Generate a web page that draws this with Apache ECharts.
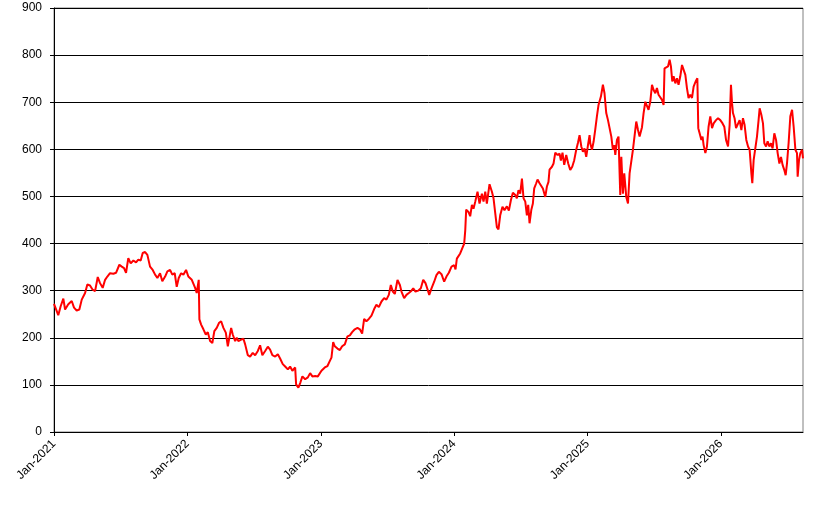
<!DOCTYPE html>
<html>
<head>
<meta charset="utf-8">
<script src="https://cdn.jsdelivr.net/npm/echarts@6/dist/echarts.min.js"></script>
<style>
  html, body { margin: 0; padding: 0; background: #fff; }
  #chart { width: 827px; height: 511px; }
</style>
</head>
<body>
<div id="chart"></div>
<script>
// time as decimal years (2021.5 = mid 2021)
const years = [
  2021.000, 2021.008, 2021.032, 2021.050, 2021.070, 2021.083, 2021.107, 2021.133, 2021.150, 2021.170,
  2021.190, 2021.208, 2021.233, 2021.250, 2021.270, 2021.290, 2021.308, 2021.328, 2021.345, 2021.365,
  2021.383, 2021.400, 2021.420, 2021.445, 2021.465, 2021.490, 2021.508, 2021.525, 2021.540, 2021.557,
  2021.575, 2021.595, 2021.615, 2021.632, 2021.650, 2021.665, 2021.683, 2021.700, 2021.720, 2021.740,
  2021.758, 2021.775, 2021.795, 2021.812, 2021.833, 2021.850, 2021.870, 2021.887, 2021.905, 2021.920,
  2021.935, 2021.953, 2021.970, 2021.990, 2022.007, 2022.033, 2022.058, 2022.070, 2022.085, 2022.090,
  2022.103, 2022.120, 2022.138, 2022.153, 2022.170, 2022.187, 2022.202, 2022.220, 2022.238, 2022.253,
  2022.270, 2022.288, 2022.303, 2022.315, 2022.328, 2022.340, 2022.358, 2022.370, 2022.382, 2022.403,
  2022.420, 2022.433, 2022.453, 2022.470, 2022.490, 2022.508, 2022.528, 2022.545, 2022.562, 2022.583,
  2022.603, 2022.620, 2022.637, 2022.658, 2022.678, 2022.695, 2022.715, 2022.733, 2022.753, 2022.770,
  2022.787, 2022.808, 2022.815, 2022.832, 2022.847, 2022.862, 2022.883, 2022.903, 2022.920, 2022.937,
  2022.958, 2022.978, 2023.005, 2023.030, 2023.050, 2023.068, 2023.080, 2023.093, 2023.105, 2023.125,
  2023.143, 2023.160, 2023.180, 2023.200, 2023.218, 2023.235, 2023.255, 2023.275, 2023.293, 2023.310,
  2023.325, 2023.342, 2023.360, 2023.380, 2023.400, 2023.417, 2023.435, 2023.455, 2023.475, 2023.492,
  2023.510, 2023.525, 2023.540, 2023.555, 2023.575, 2023.593, 2023.605, 2023.625, 2023.642, 2023.660,
  2023.680, 2023.693, 2023.710, 2023.730, 2023.750, 2023.768, 2023.785, 2023.800, 2023.813, 2023.830,
  2023.850, 2023.867, 2023.885, 2023.905, 2023.925, 2023.942, 2023.960, 2023.980, 2024.000, 2024.010,
  2024.020, 2024.045, 2024.065, 2024.075, 2024.083, 2024.090, 2024.107, 2024.120, 2024.133, 2024.145,
  2024.158, 2024.175, 2024.190, 2024.208, 2024.220, 2024.233, 2024.245, 2024.265, 2024.283, 2024.295,
  2024.308, 2024.320, 2024.332, 2024.345, 2024.362, 2024.377, 2024.395, 2024.410, 2024.425, 2024.440,
  2024.458, 2024.470, 2024.482, 2024.495, 2024.508, 2024.520, 2024.533, 2024.545, 2024.555, 2024.565,
  2024.578, 2024.590, 2024.600, 2024.615, 2024.625, 2024.640, 2024.650, 2024.665, 2024.683, 2024.695,
  2024.707, 2024.715, 2024.733, 2024.745, 2024.758, 2024.775, 2024.790, 2024.800, 2024.812, 2024.825,
  2024.840, 2024.855, 2024.870, 2024.885, 2024.900, 2024.915, 2024.928, 2024.940, 2024.953, 2024.965,
  2024.977, 2024.990, 2025.003, 2025.015, 2025.020, 2025.033, 2025.045, 2025.058, 2025.070, 2025.082,
  2025.100, 2025.115, 2025.127, 2025.140, 2025.153, 2025.165, 2025.178, 2025.190, 2025.200, 2025.208,
  2025.220, 2025.232, 2025.245, 2025.253, 2025.265, 2025.275, 2025.290, 2025.303, 2025.315, 2025.328,
  2025.340, 2025.352, 2025.365, 2025.378, 2025.390, 2025.408, 2025.420, 2025.433, 2025.445, 2025.457,
  2025.470, 2025.483, 2025.495, 2025.508, 2025.520, 2025.532, 2025.545, 2025.558, 2025.570, 2025.577,
  2025.590, 2025.603, 2025.615, 2025.625, 2025.635, 2025.645, 2025.658, 2025.670, 2025.682, 2025.695,
  2025.708, 2025.720, 2025.733, 2025.745, 2025.757, 2025.770, 2025.783, 2025.795, 2025.810, 2025.823,
  2025.830, 2025.840, 2025.853, 2025.862, 2025.870, 2025.883, 2025.895, 2025.907, 2025.920, 2025.933,
  2025.945, 2025.963, 2025.978, 2025.995, 2026.012, 2026.025, 2026.038, 2026.053, 2026.065, 2026.075,
  2026.083, 2026.090, 2026.102, 2026.113, 2026.125, 2026.140, 2026.153, 2026.165, 2026.177, 2026.190,
  2026.203, 2026.215, 2026.228, 2026.235, 2026.245, 2026.258, 2026.270, 2026.282, 2026.290, 2026.303,
  2026.315, 2026.325, 2026.338, 2026.350, 2026.363, 2026.375, 2026.387, 2026.400, 2026.413, 2026.425,
  2026.438, 2026.450, 2026.462, 2026.475, 2026.485, 2026.495, 2026.507, 2026.520, 2026.533, 2026.545,
  2026.558, 2026.570, 2026.575, 2026.585, 2026.595, 2026.608, 2026.615
];

const prices = [
  272, 271, 248, 267, 283, 260, 271, 278, 264, 258,
  260, 281, 295, 313, 311, 302, 299, 329, 316, 306,
  323, 330, 337, 336, 338, 355, 351, 348, 338, 369,
  358, 364, 360, 366, 364, 380, 382, 376, 351, 344,
  334, 327, 337, 320, 330, 341, 344, 334, 337, 308,
  327, 337, 334, 344, 330, 323, 306, 295, 323, 239,
  228, 218, 207, 212, 193, 189, 214, 221, 232, 235,
  221, 211, 182, 179, 221, 207, 193, 200, 193, 196,
  198, 186, 163, 160, 168, 163, 172, 184, 163, 172,
  181, 175, 163, 160, 165, 156, 144, 139, 133, 139,
  130, 137, 101, 94, 105, 118, 112, 116, 125, 118,
  119, 118, 130, 137, 140, 151, 158, 191, 182, 177,
  174, 182, 186, 203, 205, 212, 218, 221, 218, 209,
  240, 235, 240, 247, 261, 270, 265, 277, 284, 281,
  291, 312, 298, 293, 323, 312, 298, 284, 291, 295,
  300, 305, 298, 300, 305, 323, 316, 303, 291, 305,
  319, 333, 340, 335, 319, 330, 338, 351, 354, 345,
  368, 379, 393, 400, 428, 472, 467, 458, 482, 474,
  489, 510, 485, 506, 489, 510, 485, 526, 510, 496,
  464, 435, 430, 460, 478, 471, 479, 470, 492, 508,
  503, 496, 513, 506, 538, 496, 489, 460, 482, 443,
  471, 485, 517, 528, 536, 528, 529, 517, 499, 521,
  531, 557, 563, 570, 593, 588, 591, 576, 593, 567,
  588, 570, 556, 563, 577, 599, 614, 630, 606, 595,
  602, 584, 609, 630, 613, 599, 616, 643, 670, 694,
  712, 737, 719, 677, 662, 659, 627, 599, 609, 588,
  620, 627, 503, 584, 506, 549, 499, 485, 549, 552,
  599, 602, 659, 641, 627, 647, 677, 701, 698, 684,
  701, 737, 726, 719, 730, 716, 718, 705, 694, 772,
  769, 776, 790, 776, 744, 755, 740, 751, 737, 755,
  779, 776, 758, 730, 709, 716, 709, 733, 744, 751,
  645, 634, 620, 627, 609, 592, 606, 648, 670, 645,
  655, 662, 666, 662, 655, 648, 620, 606, 652, 737,
  698, 677, 666, 645, 641, 662, 641, 666, 652, 620,
  606, 599, 549, 528, 577, 581, 627, 662, 687, 673,
  655, 613, 606, 617, 606, 613, 602, 634, 620, 592,
  570, 584, 567, 556, 545, 570, 613, 670, 684, 648,
  599, 592, 542, 577, 592, 599, 581
];

const yearStart = 2021;
const yearEnd = 2026.615;

const chart = echarts.init(document.getElementById("chart"), null, { renderer: "canvas" });

const axisFont = { fontFamily: "Liberation Sans, Arial, sans-serif", fontSize: 12, color: "#000" };

const option = {
  animation: false,
  backgroundColor: "#fff",
  grid: {
    left: 54,
    right: 24,
    top: 8,
    bottom: 79,
    show: true,
    borderColor: "#808080",
    borderWidth: 1,
    backgroundColor: "transparent",
  },
  xAxis: {
    type: "value",
    min: yearStart,
    max: yearEnd,
    interval: 1,
    axisLine: { lineStyle: { color: "#000", width: 1 } },
    axisTick: { show: true, length: 4, lineStyle: { color: "#000" } },
    splitLine: { show: false },
    axisLabel: {
      ...axisFont,
      rotate: 45,
      margin: 10,
      showMaxLabel: false,
      formatter: (v) => (Number.isInteger(v) ? "Jan-" + v : ""),
    },
  },
  yAxis: {
    type: "value",
    min: 0,
    max: 900,
    interval: 100,
    axisLine: { show: true, lineStyle: { color: "#000", width: 1 } },
    axisTick: { show: true, length: 4, lineStyle: { color: "#000" } },
    splitLine: { show: true, lineStyle: { color: "#000", width: 1 } },
    axisLabel: { ...axisFont, margin: 12 },
  },
  series: [
    {
      type: "line",
      data: years.map((y, i) => [y, prices[i]]),
      showSymbol: false,
      symbol: "none",
      lineStyle: { color: "#ff0000", width: 2 },
      z: 5,
    },
  ],
};

chart.setOption(option);
</script>
</body>
</html>
